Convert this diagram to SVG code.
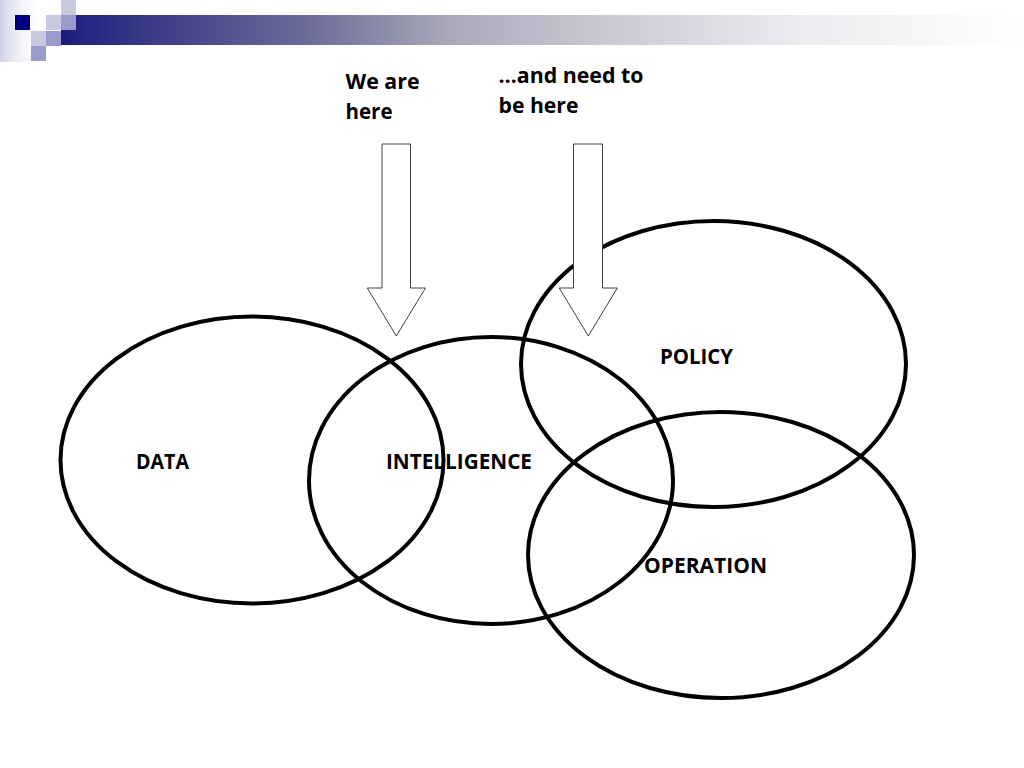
<svg xmlns="http://www.w3.org/2000/svg" width="1024" height="768" viewBox="0 0 1024 768">
  <defs>
    <linearGradient id="barGrad" x1="61" y1="0" x2="1024" y2="0" gradientUnits="userSpaceOnUse">
      <stop offset="0" stop-color="#1c1c80"/>
      <stop offset="0.09" stop-color="#3a3a88"/>
      <stop offset="0.25" stop-color="#6a6a98"/>
      <stop offset="0.33" stop-color="#8a8aa8"/>
      <stop offset="0.40" stop-color="#a8a8b8"/>
      <stop offset="0.56" stop-color="#c8c8d4"/>
      <stop offset="0.77" stop-color="#ececf0"/>
      <stop offset="1" stop-color="#ffffff"/>
    </linearGradient>
    <linearGradient id="fadeGrad" x1="0" y1="0" x2="1" y2="0">
      <stop offset="0" stop-color="#cfcfe6"/>
      <stop offset="1" stop-color="#ffffff" stop-opacity="0"/>
    </linearGradient>
    <style>
      .ring { fill: none; stroke: #000000; stroke-width: 4; }
      .label { font-family: "Open Sans", "Liberation Sans", sans-serif; font-weight: bold; font-size: 21.5px; fill: #000000; }
      .arrow { fill: #ffffff; stroke: #404040; stroke-width: 1; }
      .pale { fill: #c8c8e0; }
      .mid { fill: #9a9acc; }
      .navy { fill: #000080; }
    </style>
  </defs>
  <rect x="0" y="0" width="1024" height="768" fill="#ffffff"/>

  <g id="header">
    <rect x="0" y="0" width="45" height="62" fill="url(#fadeGrad)"/>
    <rect x="61" y="15" width="963" height="30" fill="url(#barGrad)"/>
    <rect class="navy" x="15" y="15" width="15" height="15"/>
    <rect class="pale" x="61" y="0" width="15" height="15"/>
    <rect class="pale" x="46" y="15" width="15" height="15"/>
    <rect class="mid" x="61" y="15" width="15" height="15"/>
    <rect class="pale" x="31" y="31" width="15" height="15"/>
    <rect class="mid" x="46" y="31" width="15" height="15"/>
    <rect class="mid" x="31" y="46" width="15" height="15"/>
  </g>

  <g id="data">
    <ellipse class="ring" cx="252" cy="460" rx="191.5" ry="143.5"/>
    <text class="label" x="136" y="469" textLength="53" lengthAdjust="spacingAndGlyphs">DATA</text>
  </g>

  <g id="intelligence">
    <ellipse class="ring" cx="491" cy="480.5" rx="182" ry="143.5"/>
    <text class="label" x="386" y="469" textLength="146" lengthAdjust="spacingAndGlyphs">INTELLIGENCE</text>
  </g>

  <g id="policy">
    <ellipse class="ring" cx="713.5" cy="364" rx="192.5" ry="143"/>
    <text class="label" x="660" y="364" textLength="73" lengthAdjust="spacingAndGlyphs">POLICY</text>
  </g>

  <g id="operation">
    <ellipse class="ring" cx="721" cy="555" rx="193" ry="143"/>
    <text class="label" x="644" y="573" textLength="123" lengthAdjust="spacingAndGlyphs">OPERATION</text>
  </g>

  <g id="connectors">
    <g id="arrow-now">
      <polygon class="arrow" points="382,144 410.5,144 410.5,288 425.5,288 396.3,336 367.3,288 382,288"/>
      <text class="label" x="345.5" y="89" textLength="74" lengthAdjust="spacingAndGlyphs">We are</text>
      <text class="label" x="345.5" y="119" textLength="47" lengthAdjust="spacingAndGlyphs">here</text>
    </g>
    <g id="arrow-target">
      <polygon class="arrow" points="573.5,144 602.5,144 602.5,288 617.3,288 588.3,336 559.3,288 573.5,288"/>
      <text class="label" x="498.5" y="82.5" textLength="145" lengthAdjust="spacingAndGlyphs">…and need to</text>
      <text class="label" x="498.5" y="112.5" textLength="80" lengthAdjust="spacingAndGlyphs">be here</text>
    </g>
  </g>
</svg>
